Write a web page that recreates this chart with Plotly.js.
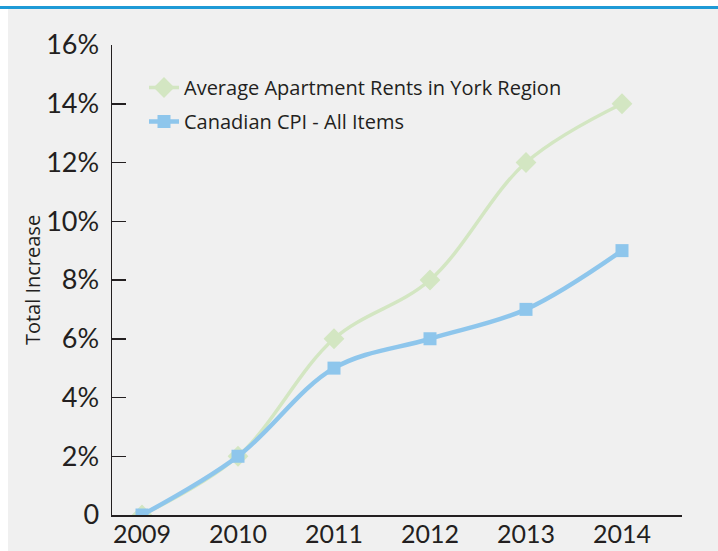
<!DOCTYPE html>
<html>
<head>
<meta charset="utf-8">
<script src="https://cdn.plot.ly/plotly-3.0.1.min.js"></script>
<style>html,body{margin:0;padding:0;background:#fff;}#chart{width:718px;height:551px;}</style>
</head>
<body>
<div id="chart"></div>
<script>
const years = ["2009", "2010", "2011", "2012", "2013", "2014"];
const rentIncrease = [0, 2, 6, 8, 12, 14];
const cpiIncrease = [0, 2, 5, 6, 7, 9];
const seriesNames = ["Average Apartment Rents in York Region", "Canadian CPI - All Items"];
const yTickVals = [0, 2, 4, 6, 8, 10, 12, 14, 16];
const yTickText = ["0", "2%", "4%", "6%", "8%", "10%", "12%", "14%", "16%"];

const W = 718, H = 551, L = 112, R = 36, T = 45, B = 36;
const pw = W - L - R, ph = H - T - B;
const px = x => (x - L) / pw;
const py = y => (H - B - y) / ph;

const traces = [
  {
    x: years, y: rentIncrease, name: seriesNames[0], type: "scatter", mode: "lines+markers",
    legendgroup: "a",
    line: {color: "#d3e6c2", width: 3.5, shape: "spline", smoothing: 1},
    marker: {symbol: "diamond", size: 16, color: "#d3e6c2"}
  },
  {
    x: years, y: cpiIncrease, name: seriesNames[1], type: "scatter", mode: "lines+markers",
    legendgroup: "b",
    line: {color: "#8ec6ec", width: 4.5, shape: "spline", smoothing: 1},
    marker: {symbol: "square", size: 13, color: "#8ec6ec"}
  }
];

const layout = {
  width: W, height: H,
  margin: {l: L, r: R, t: T, b: B, pad: 0},
  paper_bgcolor: "#f0f0f0",
  plot_bgcolor: "rgba(0,0,0,0)",
  font: {family: "Open Sans, sans-serif", color: "#231f20"},
  showlegend: true,
  legend: {
    x: px(144), y: py(68), xanchor: "left", yanchor: "top",
    bgcolor: "rgba(0,0,0,0)", font: {size: 20, family: "Open Sans, sans-serif", color: "#231f20"},
    tracegroupgap: 5, itemwidth: 30
  },
  xaxis: {
    type: "category", range: [-0.3125, 5.625],
    showline: true, linecolor: "#231f20", linewidth: 1.5,
    showgrid: false, zeroline: false, ticks: "",
    ticklabelstandoff: -4,
    tickfont: {size: 25, family: "Liberation Sans Narrow, Lato, sans-serif", color: "#231f20"}
  },
  yaxis: {
    range: [0, 16], tickvals: yTickVals, ticktext: yTickText,
    showline: true, linecolor: "#231f20", linewidth: 1.5,
    showgrid: false, zeroline: false,
    ticks: "inside", ticklen: 14, tickwidth: 1.5, tickcolor: "#231f20",
    ticklabelstandoff: 6,
    tickfont: {size: 27, family: "Liberation Sans Narrow, Lato, sans-serif", color: "#231f20"},
    title: {text: "Total Increase", font: {size: 20, family: "Open Sans, sans-serif", color: "#231f20"}, standoff: 0}
  },
  shapes: [
    {type: "rect", xref: "paper", yref: "paper", x0: px(-5), x1: px(W + 5), y0: py(6), y1: py(-5), fillcolor: "#ffffff", line: {width: 0}, layer: "below"},
    {type: "rect", xref: "paper", yref: "paper", x0: px(-5), x1: px(8), y0: py(H + 5), y1: py(-5), fillcolor: "#ffffff", line: {width: 0}, layer: "below"},
    {type: "rect", xref: "paper", yref: "paper", x0: px(-5), x1: px(W + 5), y0: py(9), y1: py(6), fillcolor: "#1e9ad6", line: {width: 0}, layer: "below"}
  ]
};

Plotly.newPlot("chart", traces, layout, {displayModeBar: false, staticPlot: true});
</script>
</body>
</html>
